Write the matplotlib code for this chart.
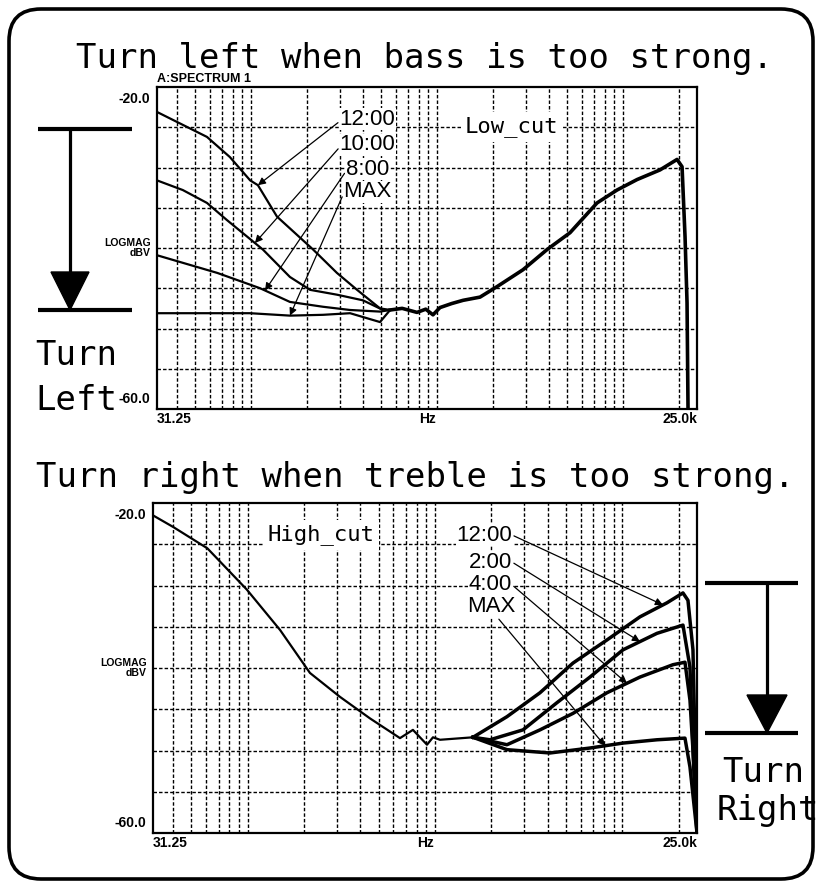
import numpy as np
import matplotlib
matplotlib.use("Agg")
import matplotlib.pyplot as plt
from matplotlib.ticker import LogLocator, NullFormatter
from matplotlib.patches import FancyBboxPatch, Polygon

W, H = 819, 884
MONO = "DejaVu Sans Mono"
SCOPE = ["Liberation Sans Narrow", "Liberation Sans", "DejaVu Sans"]

# ---- Low_cut trace (Hz, dBV) ----
low_f_1200 = [31.25, 43, 58, 77, 99, 109, 138, 216, 290, 372, 494, 560]
low_db_1200 = [-23.1, -24.7, -26.2, -28.7, -31.6, -32.2, -36.1, -40.2, -43.1, -45.2, -47.5, -47.7]
low_f_1000 = [31.25, 43, 58, 74, 116, 162, 208, 290, 400, 513, 560]
low_db_1000 = [-31.6, -32.8, -34.4, -36.5, -40.2, -43.6, -45.2, -45.8, -46.5, -47.7, -47.7]
low_f_800 = [31.25, 66, 112, 162, 244, 341, 494, 560]
low_db_800 = [-40.9, -43.1, -45.0, -46.7, -47.3, -47.7, -47.9, -47.7]
low_f_max = [31.25, 99, 162, 244, 341, 494, 560]
low_db_max = [-48.1, -48.1, -48.4, -48.3, -48.1, -49.2, -47.7]
low_f_common = [560, 650, 781, 870, 952, 1038, 1200, 1381, 1704, 2103, 2901, 3904,
                5192, 7254, 9288, 11900, 15815, 19525, 20775, 21560, 22100, 22370]
low_db_common = [-47.7, -47.5, -48.0, -47.6, -48.3, -47.4, -46.9, -46.5, -46.1, -44.8,
                 -42.7, -40.2, -38.1, -34.4, -32.8, -31.5, -30.3, -29.0, -29.9, -38.6, -46.8, -60.0]

# ---- High_cut trace ----
high_f_common = [31.25, 40, 61, 99, 149, 215, 311, 449, 650, 762, 906, 975, 1063, 1594]
high_db_common = [-21.5, -22.9, -25.5, -30.5, -35.4, -40.6, -43.5, -46.1, -48.5, -47.5,
                  -49.3, -48.4, -48.7, -48.4]
high_f_1200 = [1594, 2420, 3631, 5447, 8269, 12403, 17281, 21038, 22372, 23791, 25000]
high_db_1200 = [-48.4, -45.9, -43.0, -39.4, -36.6, -33.8, -32.1, -30.9, -31.8, -37.8, -60.0]
high_f_200 = [1594, 1964, 2946, 4475, 6709, 10066, 15284, 21038, 22931, 24384, 25000]
high_db_200 = [-48.4, -48.7, -47.5, -44.2, -41.1, -37.8, -35.8, -34.8, -39.9, -56.0, -60.0]
high_f_400 = [1594, 2420, 3631, 5447, 8269, 12403, 18609, 21563, 22931, 25000]
high_db_400 = [-48.4, -49.3, -47.5, -45.5, -43.0, -41.1, -39.6, -39.3, -43.9, -58.1]
high_f_max = [1594, 2420, 4106, 6709, 10066, 15284, 21563, 22931, 25000]
high_db_max = [-48.4, -49.9, -50.3, -49.7, -49.1, -48.7, -48.5, -52.0, -60.0]

low_labels = ["12:00", "10:00", "8:00", "MAX"]
low_tip_f = [109, 105, 119, 162]
high_labels = ["12:00", "2:00", "4:00", "MAX"]
high_tip_f = [16456, 12403, 10570, 8069]


def on_curve(f, fs, dbs):
    return float(np.interp(np.log10(f), np.log10(fs), dbs))


def scope_axes(ax):
    ax.set_xscale("log")
    ax.set_xlim(31.25, 25000)
    ax.set_ylim(-60, -20)
    ax.xaxis.set_minor_locator(LogLocator(base=10, subs=np.arange(2, 10)))
    ax.xaxis.set_minor_formatter(NullFormatter())
    ax.set_yticks(np.arange(-55, -20, 5))
    ax.grid(True, which="both", color="black", lw=1.0, ls=(0, (2.5, 1.5)))
    ax.tick_params(which="both", length=0, labelbottom=False, labelleft=False)
    for s in ax.spines.values():
        s.set_linewidth(1.6)
    kw = dict(family=SCOPE, fontweight="bold", transform=ax.transAxes)
    ax.text(-0.012, 0.985, "-20.0", ha="right", va="top", fontsize=10, **kw)
    ax.text(-0.012, 0.01, "-60.0", ha="right", va="bottom", fontsize=10, **kw)
    ax.text(-0.012, 0.5, "LOGMAG\ndBV", ha="right", va="center", fontsize=7.5,
            linespacing=0.9, multialignment="right", **kw)
    ax.text(0.0, -0.008, "31.25", ha="left", va="top", fontsize=10, **kw)
    ax.text(0.5, -0.008, "Hz", ha="center", va="top", fontsize=10, **kw)
    ax.text(1.0, -0.008, "25.0k", ha="right", va="top", fontsize=10, **kw)


fig = plt.figure(figsize=(W / 100, H / 100), dpi=100)

# top panel: Low_cut
ax1 = fig.add_axes([157 / W, 1 - 409 / H, 540 / W, 322 / H])
scope_axes(ax1)
ax1.text(0.0, 1.005, "A:SPECTRUM 1", transform=ax1.transAxes, ha="left", va="bottom",
         fontsize=9, family=SCOPE, fontweight="bold")
low_sets = [(low_f_1200, low_db_1200), (low_f_1000, low_db_1000),
            (low_f_800, low_db_800), (low_f_max, low_db_max)]
for fs, dbs in low_sets:
    ax1.plot(fs, dbs, color="black", lw=1.6)
ax1.plot(low_f_common, low_db_common, color="black", lw=2.6)
ax1.text(0.570, 0.876, "Low_cut", transform=ax1.transAxes, ha="left", va="center",
         fontsize=16, family=MONO, bbox=dict(fc="white", ec="none", pad=3))
low_text_y = [0.90, 0.82, 0.745, 0.674]
for lab, ty, tf, (fs, dbs) in zip(low_labels, low_text_y, low_tip_f, low_sets):
    ax1.annotate(lab, xy=(tf, on_curve(tf, fs, dbs)), xycoords="data",
                 xytext=(0.39, ty), textcoords="axes fraction", ha="center", va="center",
                 fontsize=16, family=SCOPE,
                 bbox=dict(fc="white", ec="none", pad=0.5),
                 arrowprops=dict(arrowstyle="-|>", color="black", lw=0.9,
                                 mutation_scale=11, relpos=(0, 0.4), shrinkA=1, shrinkB=0))

# bottom panel: High_cut
ax2 = fig.add_axes([153 / W, 1 - 833 / H, 544 / W, 330 / H])
scope_axes(ax2)
ax2.plot(high_f_common, high_db_common, color="black", lw=1.6)
high_sets = [(high_f_1200, high_db_1200), (high_f_200, high_db_200),
             (high_f_400, high_db_400), (high_f_max, high_db_max)]
for fs, dbs in high_sets:
    ax2.plot(fs, dbs, color="black", lw=2.5)
ax2.text(0.211, 0.903, "High_cut", transform=ax2.transAxes, ha="left", va="center",
         fontsize=16, family=MONO, bbox=dict(fc="white", ec="none", pad=3))
high_text = [(0.66, 0.903, "right", (1, 0.5)), (0.66, 0.821, "right", (1, 0.5)),
             (0.66, 0.752, "right", (1, 0.5)), (0.621, 0.685, "center", (0.6, 0.1))]
for lab, (tx, ty, ha, rp), tf, (fs, dbs) in zip(high_labels, high_text, high_tip_f, high_sets):
    ax2.annotate(lab, xy=(tf, on_curve(tf, fs, dbs)), xycoords="data",
                 xytext=(tx, ty), textcoords="axes fraction", ha=ha, va="center",
                 fontsize=16, family=SCOPE,
                 bbox=dict(fc="white", ec="none", pad=0.5),
                 arrowprops=dict(arrowstyle="-|>", color="black", lw=0.9,
                                 mutation_scale=11, relpos=rp, shrinkA=1, shrinkB=0))

# overlay in pixel units for the frame, titles and the big arrows
ov = fig.add_axes([0, 0, 1, 1])
ov.set_xlim(0, W)
ov.set_ylim(H, 0)
ov.axis("off")
ov.add_patch(FancyBboxPatch((9, 9), 804, 870, boxstyle="round,pad=0,rounding_size=32",
                            fc="none", ec="black", lw=2.6))
ov.text(425, 68, "Turn left when bass is too strong.", ha="center", va="baseline",
        fontsize=24.5, family=MONO)
ov.text(415, 487, "Turn right when treble is too strong.", ha="center", va="baseline",
        fontsize=24.5, family=MONO)


def big_arrow(x0, x1, xc, ytop, ybot, tri_top, half):
    ov.plot([x0, x1], [ytop, ytop], color="black", lw=3, solid_capstyle="butt")
    ov.plot([xc, xc], [ytop, tri_top], color="black", lw=2.3)
    ov.add_patch(Polygon([(xc - half, tri_top), (xc + half, tri_top), (xc, ybot)],
                         closed=True, color="black"))
    ov.plot([x0, x1], [ybot, ybot], color="black", lw=3, solid_capstyle="butt")


big_arrow(38, 132, 70, 129, 310, 272, 19)
big_arrow(705, 798, 767, 583, 733, 695, 20)
ov.text(35, 365, "Turn", ha="left", va="baseline", fontsize=24.5, family=MONO)
ov.text(35, 410, "Left", ha="left", va="baseline", fontsize=24.5, family=MONO)
ov.text(722, 782, "Turn", ha="left", va="baseline", fontsize=24.5, family=MONO)
ov.text(717, 820, "Right", ha="left", va="baseline", fontsize=24.5, family=MONO)

fig.savefig("out.png", dpi=100)
